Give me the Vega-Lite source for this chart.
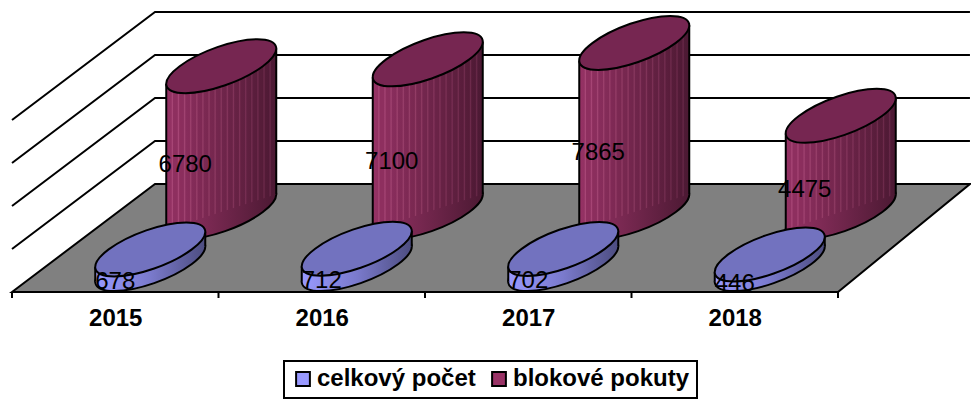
{
"$schema":"https://vega.github.io/schema/vega-lite/v6.json",
"width":826,"height":292,
"autosize":{"type":"none"},
"padding":{"left":12,"top":0,"right":133,"bottom":109},
"background":"white",
"config":{
"view":{"stroke":null},
"legend":{"strokeWidth":2}
},
"layer":[
{"data":{"values":[{"series":"celkový počet"},{"series":"blokové pokuty"}]},
 "mark":{"type":"point","filled":true,"size":1,"opacity":1,"shape":"square"},
 "encoding":{
  "x":{"datum":2016,"type":"quantitative","scale":{"domain":[2014.5,2018.5],"nice":false,"zero":false},
   "axis":{"values":[2015,2016,2017,2018],"format":"d","title":null,"grid":false,"ticks":false,"domain":false,"labelFont":"Liberation Sans","labelFontSize":24,"labelFontWeight":"bold","labelColor":"black","labelPadding":14}},
  "y":{"datum":1000,"type":"quantitative","scale":{"domain":[0,13581],"nice":false,"zero":false},"axis":null},
  "fill":{"field":"series","type":"nominal","sort":null,
   "scale":{"domain":["celkový počet","blokové pokuty"],"range":["#9999ff","#993366"]},
   "legend":{"orient":"none","legendX":272,"legendY":361,"direction":"horizontal","columns":2,"title":null,"symbolType":"square","symbolSize":190,"symbolStrokeColor":"black","symbolStrokeWidth":2,"symbolOpacity":1,"labelFont":"Liberation Sans","labelFontSize":24,"labelFontWeight":"bold","labelColor":"black","labelOffset":2,"labelLimit":400,"columnPadding":11,"fillColor":"white","strokeColor":"black","padding":7,"clipHeight":22}}
 }},
{"data":{"values":[
 {"year":2014.5,"level":0,"level2":0},
 {"year":2015.1925,"level":5023,"level2":0},
 {"year":2018.5,"level":5023,"level2":0},
 {"year":2019.139,"level":5023,"level2":5023}]},
 "mark":{"type":"area","fill":"#808080","stroke":"black","strokeWidth":2,"orient":"vertical"},
 "encoding":{"x":{"field":"year","type":"quantitative"},"y":{"field":"level","type":"quantitative","stack":null},"y2":{"field":"level2"}}
},
{"data":{"values":[
 {"line":1,"year":2014.5,"level":2000},{"line":1,"year":2015.1925,"level":7023},{"line":1,"year":2019.139,"level":7023},
 {"line":2,"year":2014.5,"level":4000},{"line":2,"year":2015.1925,"level":9023},{"line":2,"year":2019.139,"level":9023},
 {"line":3,"year":2014.5,"level":6000},{"line":3,"year":2015.1925,"level":11023},{"line":3,"year":2019.139,"level":11023},
 {"line":4,"year":2014.5,"level":8000},{"line":4,"year":2015.1925,"level":13023},{"line":4,"year":2019.139,"level":13023}]},
 "mark":{"type":"line","stroke":"black","strokeWidth":2,"clip":false},
 "encoding":{"x":{"field":"year","type":"quantitative"},"y":{"field":"level","type":"quantitative"},"detail":{"field":"line"}}
},
{"data":{"values":[{"year":2014.5},{"year":2015.5},{"year":2016.5},{"year":2017.5},{"year":2018.5}]},
 "mark":{"type":"rule","stroke":"black","strokeWidth":2},
 "encoding":{"x":{"field":"year","type":"quantitative"},"y":{"datum":0,"type":"quantitative"},"y2":{"datum":-280}}
},
{"data":{"values":[
 {"year":2015,"series":"blokové pokuty","value":6780},
 {"year":2016,"series":"blokové pokuty","value":7100},
 {"year":2017,"series":"blokové pokuty","value":7865},
 {"year":2018,"series":"blokové pokuty","value":4475},
 {"year":2015,"series":"celkový počet","value":678},
 {"year":2016,"series":"celkový počet","value":712},
 {"year":2017,"series":"celkový počet","value":702},
 {"year":2018,"series":"celkový počet","value":446}]},
 "transform":[
  {"calculate":"[-1,1]","as":"side"},
  {"flatten":["side"]},
  {"calculate":"datum.year+datum.side*55/206.5","as":"edgeYear"},
  {"calculate":"datum.side*824","as":"edgeBase"},
  {"calculate":"datum.value+datum.side*824","as":"edgeTop"},
  {"calculate":"datum.value/2","as":"mid"}
 ],
 "layer":[
 {"transform":[{"filter":"datum.series=='blokové pokuty' && datum.side==1"}],
  "mark":{"type":"point","filled":true,"fill":{"gradient":"linear","x1":0,"x2":1,"y1":0,"y2":0,"stops":[{"offset":0,"color":"#963265"},{"offset":0.5,"color":"#71264c"},{"offset":1,"color":"#4c1933"}]},"stroke":"black","strokeWidth":2,"opacity":1,"size":12100,"shape":"M0.7564 0C1.1179 -0.2711 1.0723 -0.4909 0.6545 -0.4909C0.2367 -0.4909 -0.3949 -0.2711 -0.7564 0C-1.1179 0.2711 -1.0723 0.4909 -0.6545 0.4909C-0.2367 0.4909 0.3949 0.2711 0.7564 0Z","xOffset":106,"yOffset":-80},
  "encoding":{"x":{"field":"year","type":"quantitative"},"y":{"datum":0,"type":"quantitative"}}},
 {"transform":[{"filter":"datum.series=='blokové pokuty'"}],
  "mark":{"type":"area","fill":{"gradient":"linear","x1":0,"x2":1,"y1":0,"y2":0,"stops":[
{"offset":0,"color":"#963265"},
{"offset":0.045,"color":"#923162"},{"offset":0.0556,"color":"#aa4878"},{"offset":0.066,"color":"#8e2f5f"},
{"offset":0.1,"color":"#8e2f5f"},{"offset":0.1111,"color":"#a64575"},{"offset":0.122,"color":"#8c2e5d"},
{"offset":0.156,"color":"#8a2e5d"},{"offset":0.1667,"color":"#a24472"},{"offset":0.178,"color":"#882d5c"},
{"offset":0.211,"color":"#862c5a"},{"offset":0.2222,"color":"#9e426e"},{"offset":0.233,"color":"#842c59"},
{"offset":0.267,"color":"#822b57"},{"offset":0.2778,"color":"#9a406b"},{"offset":0.289,"color":"#802a56"},
{"offset":0.322,"color":"#7e2954"},{"offset":0.3333,"color":"#963e68"},{"offset":0.344,"color":"#7c2953"},
{"offset":0.378,"color":"#7a2851"},{"offset":0.3889,"color":"#923c65"},{"offset":0.4,"color":"#782850"},
{"offset":0.433,"color":"#76274f"},{"offset":0.4444,"color":"#8e3a62"},{"offset":0.456,"color":"#74264e"},
{"offset":0.489,"color":"#71264c"},{"offset":0.5,"color":"#89385f"},{"offset":0.511,"color":"#6f254b"},
{"offset":0.544,"color":"#6d2449"},{"offset":0.5556,"color":"#85355c"},{"offset":0.567,"color":"#6b2348"},
{"offset":0.6,"color":"#692346"},{"offset":0.6111,"color":"#813359"},{"offset":0.622,"color":"#672245"},
{"offset":0.656,"color":"#652143"},{"offset":0.6667,"color":"#7d3156"},{"offset":0.678,"color":"#632142"},
{"offset":0.711,"color":"#612041"},{"offset":0.7222,"color":"#792f54"},{"offset":0.733,"color":"#5f2040"},
{"offset":0.767,"color":"#5d1f3e"},{"offset":0.7778,"color":"#752e51"},{"offset":0.789,"color":"#5b1e3d"},
{"offset":0.822,"color":"#591d3b"},{"offset":0.8333,"color":"#712c4e"},{"offset":0.844,"color":"#571d3a"},
{"offset":0.878,"color":"#551c38"},{"offset":0.8889,"color":"#6d2a4b"},{"offset":0.9,"color":"#531b37"},
{"offset":0.933,"color":"#501a36"},{"offset":0.9444,"color":"#682848"},{"offset":0.956,"color":"#4e1a35"},
{"offset":1,"color":"#4c1933"}]},"orient":"vertical","xOffset":106,"yOffset":-80,"y2Offset":-80},
  "encoding":{"x":{"field":"edgeYear","type":"quantitative"},"y":{"field":"edgeTop","type":"quantitative","stack":null},"y2":{"field":"edgeBase"},"detail":{"field":"year"}}},
 {"transform":[{"filter":"datum.series=='blokové pokuty'"}],
  "mark":{"type":"rule","stroke":"black","strokeWidth":2,"xOffset":106,"yOffset":-80,"y2Offset":-80},
  "encoding":{"x":{"field":"edgeYear","type":"quantitative"},"y":{"field":"edgeTop","type":"quantitative"},"y2":{"field":"edgeBase"}}},
 {"transform":[{"filter":"datum.series=='blokové pokuty' && datum.side==1"}],
  "mark":{"type":"point","filled":true,"fill":"#762651","stroke":"black","strokeWidth":2,"opacity":1,"size":12100,"shape":"M0.7564 0C1.1179 -0.2711 1.0723 -0.4909 0.6545 -0.4909C0.2367 -0.4909 -0.3949 -0.2711 -0.7564 0C-1.1179 0.2711 -1.0723 0.4909 -0.6545 0.4909C-0.2367 0.4909 0.3949 0.2711 0.7564 0Z","xOffset":106,"yOffset":-80},
  "encoding":{"x":{"field":"year","type":"quantitative"},"y":{"field":"value","type":"quantitative"}}},
 {"transform":[{"filter":"datum.series=='blokové pokuty' && datum.side==1"}],
  "mark":{"type":"text","font":"Liberation Sans","fontSize":24,"color":"black","xOffset":70,"yOffset":-54},
  "encoding":{"x":{"field":"year","type":"quantitative"},"y":{"field":"mid","type":"quantitative"},"text":{"field":"value","type":"quantitative","format":"d"}}},
 {"transform":[{"filter":"datum.series=='celkový počet' && datum.side==1"}],
  "mark":{"type":"point","filled":true,"fill":{"gradient":"linear","x1":0,"x2":1,"y1":0,"y2":0,"stops":[{"offset":0,"color":"#9999ff"},{"offset":0.5,"color":"#7a7acc"},{"offset":1,"color":"#4d4d80"}]},"stroke":"black","strokeWidth":2,"opacity":1,"size":12100,"shape":"M0.7564 0C1.1179 -0.2711 1.0723 -0.4909 0.6545 -0.4909C0.2367 -0.4909 -0.3949 -0.2711 -0.7564 0C-1.1179 0.2711 -1.0723 0.4909 -0.6545 0.4909C-0.2367 0.4909 0.3949 0.2711 0.7564 0Z","xOffset":35,"yOffset":-28},
  "encoding":{"x":{"field":"year","type":"quantitative"},"y":{"datum":0,"type":"quantitative"}}},
 {"transform":[{"filter":"datum.series=='celkový počet'"}],
  "mark":{"type":"area","fill":{"gradient":"linear","x1":0,"x2":1,"y1":0,"y2":0,"stops":[{"offset":0,"color":"#9999ff"},{"offset":0.5,"color":"#7a7acc"},{"offset":1,"color":"#4d4d80"}]},"orient":"vertical","xOffset":35,"yOffset":-28,"y2Offset":-28},
  "encoding":{"x":{"field":"edgeYear","type":"quantitative"},"y":{"field":"edgeTop","type":"quantitative","stack":null},"y2":{"field":"edgeBase"},"detail":{"field":"year"}}},
 {"transform":[{"filter":"datum.series=='celkový počet'"}],
  "mark":{"type":"rule","stroke":"black","strokeWidth":2,"xOffset":35,"yOffset":-28,"y2Offset":-28},
  "encoding":{"x":{"field":"edgeYear","type":"quantitative"},"y":{"field":"edgeTop","type":"quantitative"},"y2":{"field":"edgeBase"}}},
 {"transform":[{"filter":"datum.series=='celkový počet' && datum.side==1"}],
  "mark":{"type":"point","filled":true,"fill":"#7272bf","stroke":"black","strokeWidth":2,"opacity":1,"size":12100,"shape":"M0.7564 0C1.1179 -0.2711 1.0723 -0.4909 0.6545 -0.4909C0.2367 -0.4909 -0.3949 -0.2711 -0.7564 0C-1.1179 0.2711 -1.0723 0.4909 -0.6545 0.4909C-0.2367 0.4909 0.3949 0.2711 0.7564 0Z","xOffset":35,"yOffset":-28},
  "encoding":{"x":{"field":"year","type":"quantitative"},"y":{"field":"value","type":"quantitative"}}},
 {"transform":[{"filter":"datum.series=='celkový počet' && datum.side==1"}],
  "mark":{"type":"text","font":"Liberation Sans","fontSize":24,"color":"black","xOffset":0,"yOffset":-3},
  "encoding":{"x":{"field":"year","type":"quantitative"},"y":{"field":"mid","type":"quantitative"},"text":{"field":"value","type":"quantitative","format":"d"}}}
 ]}
]
}
